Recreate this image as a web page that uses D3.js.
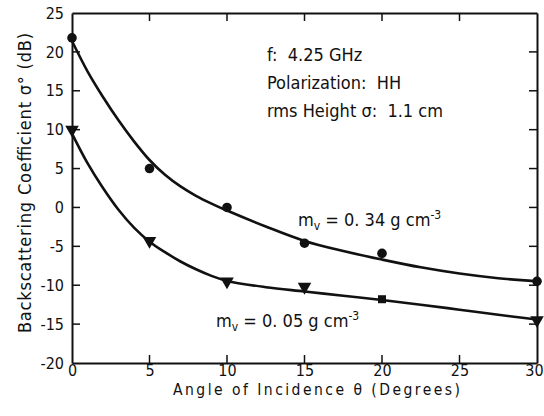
<!DOCTYPE html>
<html>
<head>
<meta charset="utf-8">
<script src="https://cdn.jsdelivr.net/npm/d3@7"></script>
<style>
  html, body { margin: 0; padding: 0; background: #fff; }
  svg text { font-family: "DejaVu Sans Condensed", "DejaVu Sans", sans-serif; font-stretch: condensed; fill: #111; white-space: pre; }
</style>
</head>
<body>
<svg id="chart" width="544" height="416"></svg>
<script>
// Measured backscattering coefficient (dB) vs incidence angle (deg)
const angles = [0, 5, 10, 15, 20, 30];
const sigmaWet = [21.8, 5.0, 0.0, -4.6, -5.9, -9.5];      // m_v = 0.34 g cm^-3
const sigmaDry = [10.0, -4.3, -9.5, -10.2, -11.8, -14.5]; // m_v = 0.05 g cm^-3
const dryMarkers = ["tri", "tri", "tri", "tri", "sq", "tri"];

// Fitted curves through each set of measurements
const fitAngles = [0, 1, 2, 3, 4, 5, 6, 7, 8, 9, 10, 12.5, 15, 17.5, 20, 22.5, 25, 27.5, 30];
const fitWet = [21.4, 17.5, 14.2, 11.2, 8.5, 6.1, 4.2, 2.7, 1.5, 0.5, -0.4, -2.45, -4.3, -5.6, -6.7, -7.7, -8.5, -9.1, -9.5];
const fitDry = [9.5, 5.7, 2.5, -0.3, -2.6, -4.4, -5.75, -6.95, -7.95, -8.8, -9.45, -10.25, -10.8, -11.35, -11.9, -12.5, -13.15, -13.8, -14.4];

const xTicks = [0, 5, 10, 15, 20, 25, 30];
const yTicks = [25, 20, 15, 10, 5, 0, -5, -10, -15, -20];

const notes = ["f:  4.25 GHz", "Polarization:  HH", "rms Height σ:  1.1 cm"];

const svg = d3.select("#chart");
const m = { left: 72, right: 7, top: 13, bottom: 53 };
const W = 544, H = 416;

const x = d3.scaleLinear().domain([0, 30]).range([m.left, W - m.right]);
const y = d3.scaleLinear().domain([-20, 25]).range([H - m.bottom, m.top]);

// Frame with inward ticks on all four sides
const inner = xTicks.filter(t => t > 0 && t < 30);
const innerY = yTicks.filter(t => t > -20 && t < 25);

svg.append("g").attr("transform", `translate(0,${y(-20)})`)
  .call(d3.axisBottom(x).tickValues(xTicks).tickSize(0).tickPadding(2).tickFormat(d => String(d)))
  .call(g => g.select(".domain").attr("stroke", "#111").attr("stroke-width", 2))
  .call(g => g.selectAll("text").attr("font-size", 16).attr("fill", "#111")
    .attr("dx", d => d === 30 ? -3 : 0));

svg.append("g").attr("transform", `translate(${x(0)},0)`)
  .call(d3.axisLeft(y).tickValues(yTicks).tickSize(0).tickPadding(8).tickFormat(d => String(d)))
  .call(g => g.select(".domain").attr("stroke", "#111").attr("stroke-width", 2))
  .call(g => g.selectAll("text").attr("font-size", 16).attr("fill", "#111"));

svg.append("g").attr("transform", `translate(0,${y(25)})`)
  .call(d3.axisTop(x).tickValues([]).tickSizeOuter(0))
  .call(g => g.select(".domain").attr("stroke", "#111").attr("stroke-width", 2));

svg.append("g").attr("transform", `translate(${x(30)},0)`)
  .call(d3.axisRight(y).tickValues([]).tickSizeOuter(0))
  .call(g => g.select(".domain").attr("stroke", "#111").attr("stroke-width", 2));

const ticks = svg.append("g").attr("stroke", "#111").attr("stroke-width", 1.5);
inner.forEach(t => {
  ticks.append("line").attr("x1", x(t)).attr("x2", x(t)).attr("y1", y(-20)).attr("y2", y(-20) - 8);
  ticks.append("line").attr("x1", x(t)).attr("x2", x(t)).attr("y1", y(25)).attr("y2", y(25) + 8);
});
innerY.forEach(t => {
  ticks.append("line").attr("x1", x(0)).attr("x2", x(0) + 8).attr("y1", y(t)).attr("y2", y(t));
  ticks.append("line").attr("x1", x(30)).attr("x2", x(30) - 8).attr("y1", y(t)).attr("y2", y(t));
});

// Fitted curves
const line = d3.line().x(d => x(d[0])).y(d => y(d[1])).curve(d3.curveCatmullRom.alpha(0.5));
[fitWet, fitDry].forEach(vals => {
  svg.append("path")
    .datum(fitAngles.map((a, i) => [a, vals[i]]))
    .attr("d", line)
    .attr("fill", "none").attr("stroke", "#111").attr("stroke-width", 2.6);
});

// Markers
svg.append("g").selectAll("circle").data(angles).join("circle")
  .attr("cx", d => x(d)).attr("cy", (d, i) => y(sigmaWet[i])).attr("r", 4.8).attr("fill", "#111");

const tri = d3.symbol().type(d3.symbolTriangle).size(80);
const sq = d3.symbol().type(d3.symbolSquare).size(64);
svg.append("g").selectAll("path").data(angles).join("path")
  .attr("d", (d, i) => dryMarkers[i] === "sq" ? sq() : tri())
  .attr("transform", (d, i) => `translate(${x(d)},${y(sigmaDry[i])}) rotate(${dryMarkers[i] === "sq" ? 0 : 180})`)
  .attr("fill", "#111");

// Series labels
function mvLabel(px, py, val) {
  const t = svg.append("text").attr("x", px).attr("y", py).attr("font-size", 18);
  t.append("tspan").text("m");
  t.append("tspan").attr("dy", 4).attr("font-size", 12).text("v");
  t.append("tspan").attr("dy", -4).text(` = ${val} g cm`);
  t.append("tspan").attr("dy", -7).attr("font-size", 12).text("-3");
}
mvLabel(298, 226, "0. 34");
mvLabel(216, 327, "0. 05");

// Measurement conditions
svg.append("g").selectAll("text").data(notes).join("text")
  .attr("x", 267).attr("y", (d, i) => 60.5 + i * 28)
  .attr("font-size", 18).text(d => d);

// Axis titles
svg.append("text").attr("x", 173).attr("y", 395)
  .attr("font-size", 15.5).attr("textLength", 287).attr("lengthAdjust", "spacing")
  .text("Angle of Incidence θ (Degrees)");
svg.append("text").attr("transform", "translate(31,333) rotate(-90)")
  .attr("font-size", 18).attr("textLength", 300).attr("lengthAdjust", "spacing")
  .text("Backscattering Coefficient σ° (dB)");
</script>
</body>
</html>
